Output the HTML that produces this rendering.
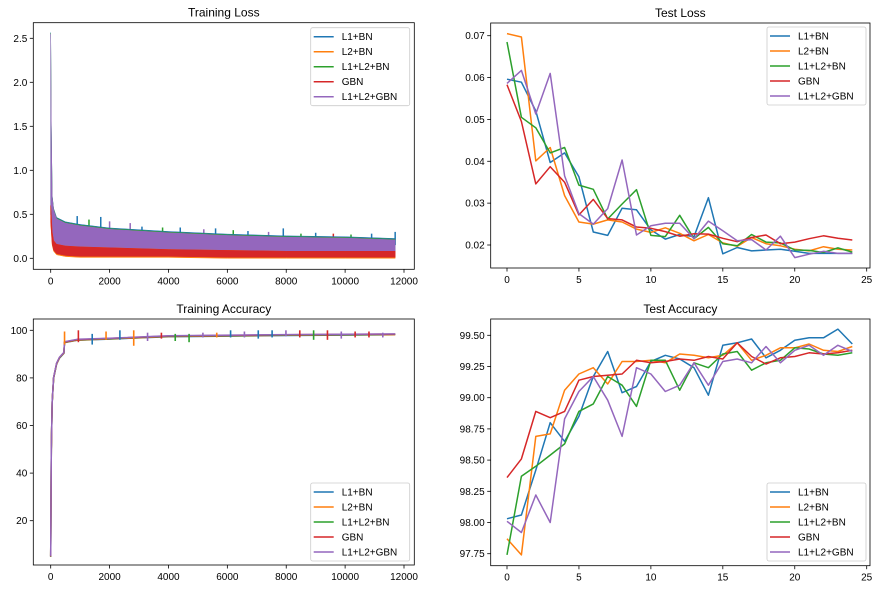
<!DOCTYPE html>
<html><head><meta charset="utf-8"><style>
body{margin:0;background:#fff}
svg{display:block;font-family:"Liberation Sans","DejaVu Sans",sans-serif}
</style></head><body>
<svg id="fig" width="880" height="590" viewBox="0 0 880 590"></svg>
<script>
const seriesNames=["L1+BN","L2+BN","L1+L2+BN","GBN","L1+L2+GBN"];
const colors=["#1f77b4","#ff7f0e","#2ca02c","#d62728","#9467bd"];
const epochs=[0,1,2,3,4,5,6,7,8,9,10,11,12,13,14,15,16,17,18,19,20,21,22,23,24];
const testLossL1=[0.0596,0.0589,0.052,0.0397,0.042,0.0363,0.0231,0.0223,0.0288,0.0284,0.0236,0.0214,0.0225,0.022,0.0313,0.0179,0.0194,0.0186,0.0188,0.019,0.0185,0.018,0.018,0.018,0.018];
const testLossL2=[0.0705,0.0697,0.0401,0.0433,0.0318,0.0255,0.025,0.026,0.0255,0.0238,0.023,0.0241,0.0228,0.021,0.0225,0.0205,0.0197,0.0218,0.0203,0.0198,0.019,0.0186,0.0196,0.019,0.0188];
const testLossL1L2=[0.0685,0.0505,0.048,0.042,0.0433,0.0343,0.0333,0.0262,0.0298,0.0332,0.0223,0.022,0.0271,0.0215,0.0242,0.0203,0.0198,0.0225,0.0207,0.0205,0.0188,0.0187,0.0182,0.0193,0.0183];
const testLossGBN=[0.0583,0.0495,0.0346,0.0387,0.035,0.0272,0.0309,0.0263,0.026,0.0243,0.024,0.0232,0.0221,0.0227,0.0226,0.0216,0.0208,0.0218,0.0224,0.0203,0.0207,0.0215,0.0222,0.0216,0.0212];
const testLossL1L2GBN=[0.0586,0.0617,0.0513,0.061,0.0365,0.0275,0.025,0.0287,0.0403,0.0224,0.0246,0.0252,0.0252,0.0215,0.0257,0.0234,0.021,0.0213,0.0188,0.0221,0.017,0.0178,0.0185,0.018,0.018];
const testAccL1=[98.03,98.06,98.42,98.80,98.65,98.85,99.17,99.37,99.04,99.09,99.29,99.34,99.31,99.24,99.02,99.42,99.44,99.47,99.32,99.38,99.46,99.48,99.48,99.55,99.43];
const testAccL2=[97.87,97.74,98.69,98.71,99.06,99.19,99.24,99.11,99.29,99.29,99.30,99.28,99.35,99.34,99.32,99.34,99.44,99.30,99.34,99.40,99.40,99.43,99.38,99.37,99.41];
const testAccL1L2=[97.74,98.37,98.45,98.54,98.63,98.89,98.95,99.17,99.10,98.93,99.30,99.30,99.06,99.28,99.24,99.35,99.37,99.22,99.28,99.30,99.40,99.39,99.35,99.34,99.36];
const testAccGBN=[98.36,98.51,98.89,98.84,98.89,99.14,99.17,99.18,99.19,99.30,99.28,99.29,99.31,99.30,99.33,99.31,99.44,99.33,99.27,99.32,99.33,99.36,99.35,99.36,99.38];
const testAccL1L2GBN=[98.01,97.92,98.22,98.00,98.83,99.05,99.17,98.98,98.69,99.24,99.19,99.05,99.10,99.28,99.10,99.29,99.31,99.28,99.41,99.28,99.38,99.42,99.34,99.42,99.37];
const iterX=[0,20,50,100,200,500,1000,2000,4000,6000,8000,10000,11700];
const purpleUpper=[2.55,1.5,0.7,0.55,0.45,0.4,0.37,0.33,0.29,0.26,0.24,0.23,0.21];
const purpleLower=[0.5,0.4,0.25,0.18,0.13,0.11,0.1,0.1,0.09,0.09,0.08,0.08,0.08];
const redUpper=[0.6,0.5,0.3,0.2,0.16,0.14,0.13,0.12,0.1,0.09,0.08,0.08,0.08];
const redLower=[0.4,0.3,0.15,0.08,0.04,0.02,0.01,0.01,0.01,0.0,0.0,0.0,0.0];
const lossSpikeX=[900,1300,1700,2000,2700,3100,3800,4400,5200,5600,6200,6700,7400,7900,8500,9000,9600,10200,10900,11700];
const lossSpikeTop=[0.48,0.44,0.47,0.42,0.4,0.36,0.35,0.35,0.33,0.34,0.32,0.31,0.3,0.34,0.28,0.29,0.28,0.27,0.28,0.3];
const lossSpikeSeries=[0,2,0,4,4,0,2,0,4,0,2,0,4,0,2,0,3,2,0,0];
const accIterX=[0,20,50,100,200,300,450,470,900,2000,4000,8000,11700];
const trainAcc=[5,50,70,80,86,88.5,90.5,95,96,96.5,97.5,98,98.3];
const spikeX=[470,940,1410,1880,2350,2820,3290,3760,4230,4700,5170,5640,6110,6580,7050,7520,7990,8460,8930,9400,9870,10340,10810,11280];
const spikeLo=[94,95,94,96,96,93.5,95.5,96.5,95.5,95,97,97,97,97,96.5,97,97.5,97,96,96,96.5,97,97,97];
const spikeHi=[99.5,100,98.5,99.5,100,100,99,99,98.5,98.5,99,99,100,99.5,100,100,100,100,100,100,99.5,99.5,99.5,99];
const spikeSeries=[1,3,0,1,0,1,4,3,2,2,4,1,0,4,0,0,4,3,2,3,4,3,3,4];
const tlTicks=[0,0.5,1.0,1.5,2.0,2.5],tlLabels=["0.0","0.5","1.0","1.5","2.0","2.5"];
const iterTicks=[0,2000,4000,6000,8000,10000,12000];
const taTicks=[20,40,60,80,100];
const epTicks=[0,5,10,15,20,25];
const vlTicks=[0.02,0.03,0.04,0.05,0.06,0.07],vlLabels=["0.02","0.03","0.04","0.05","0.06","0.07"];
const vaTicks=[97.75,98.00,98.25,98.50,98.75,99.00,99.25,99.50];

const svg=document.getElementById('fig');
const NS="http://www.w3.org/2000/svg";
function mk(tag,attrs,parent){const e=document.createElementNS(NS,tag);for(const k in attrs)e.setAttribute(k,attrs[k]);(parent||svg).appendChild(e);return e;}
function lin(d0,d1,r0,r1){return v=>r0+(v-d0)*(r1-r0)/(d1-d0);}

function axes(name,box,xs,ys,xt,xl,yt,yl,title){
  const g=mk('g',{});
  
  
  const t=mk('text',{x:(box.l+box.r)/2,y:box.t-6,'text-anchor':'middle','font-size':12,fill:'#000'},g);
  t.textContent=title;
  
  
  xt.forEach((v,i)=>{const x=xs(v);mk('line',{x1:x,x2:x,y1:box.b,y2:box.b+3.5,stroke:'#000','stroke-width':0.8},g);
    const tx=mk('text',{x:x,y:box.b+15,'text-anchor':'middle','font-size':10,fill:'#000'},g);tx.textContent=xl[i];
    
    });
  yt.forEach((v,i)=>{const y=ys(v);mk('line',{x1:box.l-3.5,x2:box.l,y1:y,y2:y,stroke:'#000','stroke-width':0.8},g);
    const ty=mk('text',{x:box.l-6,y:y+3.5,'text-anchor':'end','font-size':10,fill:'#000'},g);ty.textContent=yl[i];
    
    });
  return g;
}
function frame(box,g){mk('rect',{x:box.l,y:box.t,width:box.r-box.l,height:box.b-box.t,fill:'none',stroke:'#000','stroke-width':0.8},g);}
function legend(x,y,g){
  const lg=mk('g',{},g);
  
  
  mk('rect',{x:x,y:y,width:99,height:78,fill:'#fff','fill-opacity':0.8,stroke:'#ccc','stroke-width':0.8,rx:2},lg);
  seriesNames.forEach((n,i)=>{const yy=y+9+i*15;
    mk('line',{x1:x+3,x2:x+23,y1:yy,y2:yy,stroke:colors[i],'stroke-width':1.5},lg);
    const t=mk('text',{x:x+31,y:yy+3.5,'font-size':10,fill:'#000'},lg);t.textContent=n;
    
    });
}
function path(pts,color,g,name){const p=mk('polyline',{points:pts.map(p=>p[0].toFixed(1)+','+p[1].toFixed(1)).join(' '),fill:'none',stroke:color,'stroke-width':1.5,'stroke-linejoin':'round'},g);
  
  return p;}

// Training loss
{const box={l:33.3,r:414.3,t:22.7,b:269.3};
 const xs=lin(0,12000,50.7,404),ys=lin(0,2.5,258.3,38.3);
 const g=axes('training-loss-panel',box,xs,ys,iterTicks,iterTicks.map(String),tlTicks,tlLabels,'Training Loss');
 const band=(up,lo,col,name,off)=>{const pts=iterX.map((x,i)=>[xs(x),ys(up[i]+off)]).concat(iterX.map((x,i)=>[xs(x),ys(lo[i])]).reverse());
   const p=mk('polygon',{points:pts.map(p=>p.join(',')).join(' '),fill:col,stroke:col,'stroke-width':0.5},g);
   
   };
 lossSpikeX.forEach((x,i)=>{const l=mk('line',{x1:xs(x),x2:xs(x),y1:ys(0.15),y2:ys(lossSpikeTop[i]),stroke:colors[lossSpikeSeries[i]],'stroke-width':1.5},g);
   
   });
 band(purpleUpper,purpleLower,colors[0],'l1-bn-band',0.015);
 band(purpleUpper,purpleLower,colors[2],'l1-l2-bn-band',0.007);
 band(purpleUpper,purpleLower,colors[4],'l1-l2-gbn-band',0);
 band(redUpper,redLower,colors[1],'l2-bn-band',0);
 band(redUpper,redLower.map(v=>v+0.012),colors[3],'gbn-band',0);
 frame(box,g);legend(310.7,27.7,g);}

// Test loss
{const box={l:490.7,r:870,t:23,b:268};
 const xs=lin(0,25,507,866.7),ys=lin(0.02,0.07,245,35.7);
 const g=axes('test-loss-panel',box,xs,ys,epTicks,epTicks.map(String),vlTicks,vlLabels,'Test Loss');
 [testLossL1,testLossL2,testLossL1L2,testLossGBN,testLossL1L2GBN].forEach((s,i)=>path(epochs.map((e,j)=>[xs(e),ys(s[j])]),colors[i],g,'test-loss-line-'+i));
 frame(box,g);legend(767,27,g);}

// Training accuracy
{const box={l:33.3,r:414.3,t:319,b:565};
 const xs=lin(0,12000,50.7,404),ys=lin(20,100,520.7,330.3);
 const g=axes('training-accuracy-panel',box,xs,ys,iterTicks,iterTicks.map(String),taTicks,taTicks.map(String),'Training Accuracy');
 [0,1,2,3,4].forEach(i=>path(accIterX.map((x,j)=>[xs(x),ys(trainAcc[j]+(i-2)*0.1)]),colors[i],g,'train-acc-line-'+i));
 spikeX.forEach((x,i)=>{const l=mk('line',{x1:xs(x),x2:xs(x),y1:ys(spikeLo[i]),y2:ys(spikeHi[i]),stroke:colors[spikeSeries[i]],'stroke-width':1.6},g);
   
   });
 frame(box,g);legend(310.7,483,g);}

// Test accuracy
{const box={l:490.7,r:870,t:319,b:565.7};
 const xs=lin(0,25,507,866.7),ys=lin(97.75,99.5,553.7,335.3);
 const g=axes('test-accuracy-panel',box,xs,ys,epTicks,epTicks.map(String),vaTicks,vaTicks.map(v=>v.toFixed(2)),'Test Accuracy');
 [testAccL1,testAccL2,testAccL1L2,testAccGBN,testAccL1L2GBN].forEach((s,i)=>path(epochs.map((e,j)=>[xs(e),ys(s[j])]),colors[i],g,'test-acc-line-'+i));
 frame(box,g);legend(767,483,g);}
</script>
</body></html>
